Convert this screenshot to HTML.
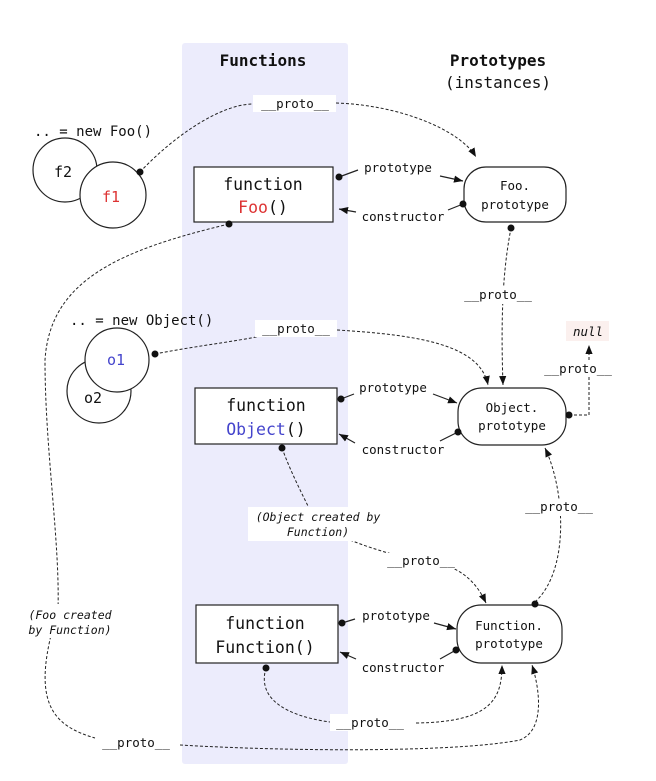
<!DOCTYPE html>
<html><head><meta charset="utf-8"><style>
html,body{margin:0;padding:0;background:#fff}
svg{display:block}
text{font-family:"DejaVu Sans Mono","Liberation Mono",monospace;fill:#111}
.l{font-size:12.5px}
.b{font-size:16.5px}
.d{fill:none;stroke:#222;stroke-width:1;stroke-dasharray:3,2}
.s{fill:none;stroke:#222;stroke-width:1.2}
.bx{fill:#fff;stroke:#222;stroke-width:1.2}
</style></head><body>
<svg width="656" height="781" viewBox="0 0 656 781" xmlns="http://www.w3.org/2000/svg">
<defs>
<marker id="a" viewBox="0 0 10 10" refX="10" refY="5" markerWidth="9" markerHeight="9" orient="auto-start-reverse" markerUnits="userSpaceOnUse"><path d="M0,1 L10,5 L0,9 z" fill="#111"/></marker>
</defs>
<rect x="182" y="43" width="166" height="721" rx="3" fill="#ececfc"/>
<text x="263" y="66" text-anchor="middle" font-weight="bold" style="font-size:16px">Functions</text>
<text x="498" y="66" text-anchor="middle" font-weight="bold" style="font-size:16px">Prototypes</text>
<text x="498" y="88" text-anchor="middle" style="font-size:16px">(instances)</text>

<path class="d" d="M140,172 C175,135 220,105 252,104"/>
<path class="d" d="M336,103 C400,105 460,130 476,157" marker-end="url(#a)"/>
<path class="d" d="M511,228 C505,260 500,300 503,385" marker-end="url(#a)"/>
<path class="d" d="M155,354 C200,345 250,340 278,332"/>
<path class="d" d="M337,330 C420,335 480,345 488,385" marker-end="url(#a)"/>
<path class="d" d="M569,415 L589,415 L589,345" marker-end="url(#a)"/>
<path class="d" d="M282,448 C290,470 300,490 310,510"/>
<path class="d" d="M350,540 C370,548 385,552 395,555"/>
<path class="d" d="M450,567 C470,575 480,590 486,603" marker-end="url(#a)"/>
<path class="d" d="M535,602 C570,570 565,490 545,448" marker-end="url(#a)"/>
<path class="d" d="M266,668 C255,705 300,718 330,722"/>
<path class="d" d="M416,723 C490,722 502,700 502,665" marker-end="url(#a)"/>
<path class="d" d="M229,224 C120,250 50,280 45,360 C45,450 60,540 58,610 C30,700 50,725 95,738"/>
<path class="d" d="M180,745 C300,752 460,752 520,740 C545,730 540,690 532,665" marker-end="url(#a)"/>

<rect x="253" y="95" width="83" height="17" fill="#fff"/>
<text x="295" y="108" text-anchor="middle" class="l">__proto__</text>
<rect x="255" y="320" width="82" height="17" fill="#fff"/>
<text x="296" y="333" text-anchor="middle" class="l">__proto__</text>
<rect x="462" y="287" width="72" height="17" fill="#fff"/>
<text x="498" y="299" text-anchor="middle" class="l">__proto__</text>
<rect x="566" y="321" width="43" height="20" fill="#fbf0ee"/>
<text x="588" y="336" text-anchor="middle" class="l" font-style="italic">null</text>
<rect x="540" y="360" width="77" height="17" fill="#fff"/>
<text x="578" y="373" text-anchor="middle" class="l">__proto__</text>
<rect x="520" y="499" width="78" height="17" fill="#fff"/>
<text x="559" y="511" text-anchor="middle" class="l">__proto__</text>
<rect x="248" y="507" width="140" height="34" fill="#fff"/>
<text x="318" y="521" text-anchor="middle" class="l" font-style="italic" style="font-size:11.5px">(Object created by</text>
<text x="318" y="536" text-anchor="middle" class="l" font-style="italic" style="font-size:11.5px">Function)</text>
<rect x="385" y="553" width="70" height="16" fill="#fff"/>
<text x="421" y="565" text-anchor="middle" class="l">__proto__</text>
<rect x="20" y="604" width="100" height="34" fill="#fff"/>
<text x="70" y="619" text-anchor="middle" class="l" font-style="italic" style="font-size:11.5px">(Foo created</text>
<text x="70" y="634" text-anchor="middle" class="l" font-style="italic" style="font-size:11.5px">by Function)</text>
<rect x="330" y="714" width="85" height="17" fill="#fff"/>
<text x="370" y="727" text-anchor="middle" class="l">__proto__</text>
<rect x="98" y="735" width="82" height="17" fill="#fff"/>
<text x="136" y="747" text-anchor="middle" class="l">__proto__</text>

<text x="34" y="136" style="font-size:14px">.. = new Foo()</text>
<circle cx="65" cy="170" r="32" class="bx"/>
<circle cx="113" cy="195" r="33" class="bx"/>
<text x="63" y="177" text-anchor="middle" style="font-size:15px">f2</text>
<text x="111" y="202" text-anchor="middle" style="font-size:15px;fill:#d33">f1</text>
<rect x="194" y="167" width="139" height="55" class="bx"/>
<text x="263" y="190" text-anchor="middle" class="b">function</text>
<text x="263" y="213" text-anchor="middle" class="b"><tspan style="fill:#d33">Foo</tspan>()</text>
<rect x="464" y="167" width="102" height="55" rx="22" class="bx"/>
<text x="515" y="190" text-anchor="middle" class="l">Foo.</text>
<text x="515" y="209" text-anchor="middle" class="l">prototype</text>
<path class="s" d="M339,177 L358,170"/><path class="s" d="M440,176 L463,181" marker-end="url(#a)"/>
<text x="398" y="172" text-anchor="middle" class="l">prototype</text>
<path class="s" d="M463,204 L448,210"/><path class="s" d="M356,212 L339,209" marker-end="url(#a)"/>
<text x="403" y="221" text-anchor="middle" class="l">constructor</text>

<text x="70" y="325" style="font-size:14px">.. = new Object()</text>
<circle cx="99" cy="391" r="32" class="bx"/>
<circle cx="117" cy="360" r="32" class="bx"/>
<text x="116" y="365" text-anchor="middle" style="font-size:15px;fill:#44c">o1</text>
<text x="93" y="403" text-anchor="middle" style="font-size:15px">o2</text>
<rect x="195" y="388" width="142" height="56" class="bx"/>
<text x="266" y="411" text-anchor="middle" class="b">function</text>
<text x="266" y="435" text-anchor="middle" class="b"><tspan style="fill:#44c">Object</tspan>()</text>
<rect x="458" y="388" width="108" height="57" rx="24" class="bx"/>
<text x="512" y="412" text-anchor="middle" class="l">Object.</text>
<text x="512" y="430" text-anchor="middle" class="l">prototype</text>
<path class="s" d="M341,399 L354,394"/><path class="s" d="M433,394 L457,403" marker-end="url(#a)"/>
<text x="393" y="392" text-anchor="middle" class="l">prototype</text>
<path class="s" d="M458,432 L440,441"/><path class="s" d="M355,443 L339,434" marker-end="url(#a)"/>
<text x="403" y="454" text-anchor="middle" class="l">constructor</text>

<rect x="196" y="605" width="142" height="58" class="bx"/>
<text x="265" y="629" text-anchor="middle" class="b">function</text>
<text x="265" y="653" text-anchor="middle" class="b">Function()</text>
<rect x="457" y="605" width="105" height="58" rx="24" class="bx"/>
<text x="509" y="630" text-anchor="middle" class="l">Function.</text>
<text x="509" y="648" text-anchor="middle" class="l">prototype</text>
<path class="s" d="M342,623 L355,619"/><path class="s" d="M434,623 L456,629" marker-end="url(#a)"/>
<text x="396" y="620" text-anchor="middle" class="l">prototype</text>
<path class="s" d="M456,650 L440,659"/><path class="s" d="M356,659 L340,652" marker-end="url(#a)"/>
<text x="403" y="672" text-anchor="middle" class="l">constructor</text>

<g fill="#111">
<circle cx="140" cy="172" r="3.5"/><circle cx="339" cy="177" r="3.5"/><circle cx="463" cy="204" r="3.5"/>
<circle cx="229" cy="224" r="3.5"/><circle cx="511" cy="228" r="3.5"/><circle cx="155" cy="354" r="3.5"/>
<circle cx="341" cy="399" r="3.5"/><circle cx="458" cy="432" r="3.5"/><circle cx="569" cy="415" r="3.5"/>
<circle cx="282" cy="448" r="3.5"/><circle cx="342" cy="623" r="3.5"/><circle cx="456" cy="650" r="3.5"/>
<circle cx="535" cy="604" r="3.5"/><circle cx="266" cy="668" r="3.5"/>
</g>
</svg>
</body></html>
